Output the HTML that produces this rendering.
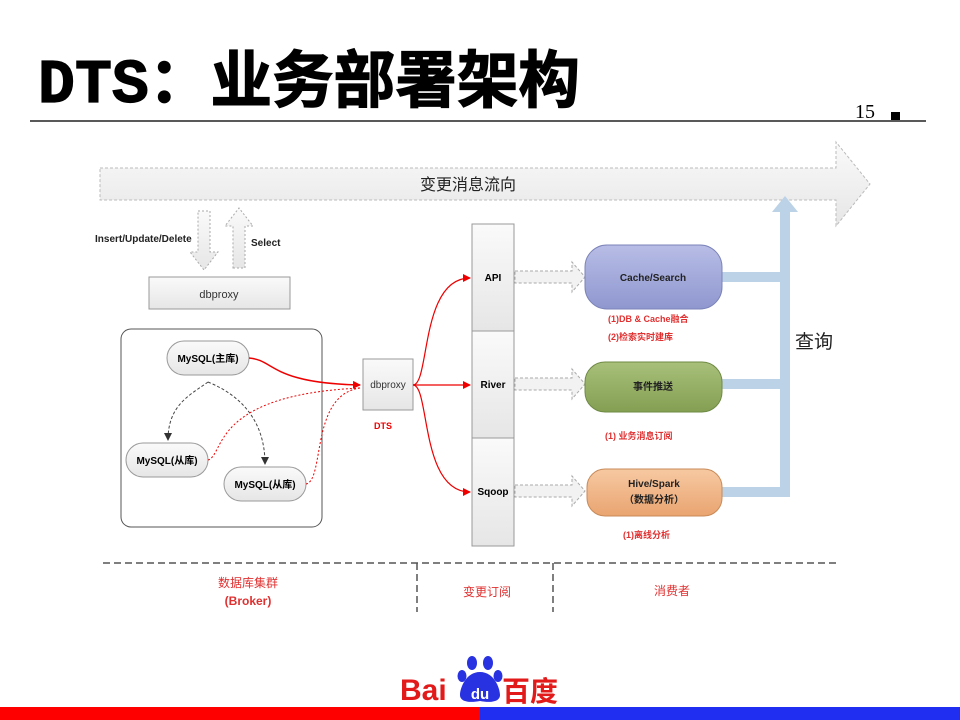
<!DOCTYPE html>
<html><head><meta charset="utf-8"><style>
html,body{margin:0;padding:0;background:#fff;}
svg{display:block;font-family:"Liberation Sans","Noto Sans CJK SC",sans-serif;}
</style></head><body>
<svg width="960" height="720" viewBox="0 0 960 720" xmlns="http://www.w3.org/2000/svg">
<defs>
<linearGradient id="g1" x1="0" y1="0" x2="0" y2="1"><stop offset="0" stop-color="#fafafa"/><stop offset="1" stop-color="#e6e6e6"/></linearGradient>
<linearGradient id="gb" x1="0" y1="0" x2="0" y2="1"><stop offset="0" stop-color="#b8bde6"/><stop offset="1" stop-color="#8f97cf"/></linearGradient>
<linearGradient id="gg" x1="0" y1="0" x2="0" y2="1"><stop offset="0" stop-color="#a8c07a"/><stop offset="1" stop-color="#849f52"/></linearGradient>
<linearGradient id="go" x1="0" y1="0" x2="0" y2="1"><stop offset="0" stop-color="#f7c9a2"/><stop offset="1" stop-color="#e9a470"/></linearGradient>
<marker id="ar" markerWidth="8" markerHeight="8" refX="7" refY="4" orient="auto" markerUnits="userSpaceOnUse"><path d="M0,0 L8,4 L0,8z" fill="#e00"/></marker>
<marker id="ak" markerWidth="8" markerHeight="8" refX="7" refY="4" orient="auto" markerUnits="userSpaceOnUse"><path d="M0,0 L8,4 L0,8z" fill="#333"/></marker>
</defs>
<text x="38" y="102" font-size="62" font-weight="bold" fill="#000" stroke="#000" stroke-width="1.2" font-family="'Liberation Mono','Noto Sans CJK SC',monospace" textLength="542" lengthAdjust="spacingAndGlyphs">DTS：业务部署架构</text>
<line x1="30" y1="121" x2="926" y2="121" stroke="#222" stroke-width="1.5"/>
<text x="855" y="118" font-size="20" font-family="'Liberation Serif',serif">15</text>
<rect x="891" y="112" width="9" height="8" fill="#000"/>
<path d="M100,168 L836,168 L836,142 L870,184 L836,226 L836,200 L100,200z" fill="url(#g1)" stroke="#bbb" stroke-dasharray="3,2"/>
<text x="468" y="190" font-size="16" text-anchor="middle" fill="#222">变更消息流向</text>
<path d="M198,211 L210,211 L210,252 L218,252 L204,270 L190,252 L198,252z" fill="url(#g1)" stroke="#aaa" stroke-dasharray="2,2"/>
<path d="M233,268 L245,268 L245,226 L253,226 L239,208 L225,226 L233,226z" fill="url(#g1)" stroke="#aaa" stroke-dasharray="2,2"/>
<text x="95" y="242" font-size="10" font-weight="bold" fill="#222">Insert/Update/Delete</text>
<text x="251" y="246" font-size="10" font-weight="bold" fill="#222">Select</text>
<rect x="149" y="277" width="141" height="32" fill="url(#g1)" stroke="#999"/>
<text x="219" y="298" font-size="11" text-anchor="middle" fill="#333">dbproxy</text>
<rect x="121" y="329" width="201" height="198" rx="10" fill="#fff" stroke="#555"/>
<rect x="167" y="341" width="82" height="34" rx="17" fill="url(#g1)" stroke="#999"/>
<text x="208" y="362" font-size="10" font-weight="bold" text-anchor="middle">MySQL(主库)</text>
<rect x="126" y="443" width="82" height="34" rx="17" fill="url(#g1)" stroke="#999"/>
<text x="167" y="464" font-size="10" font-weight="bold" text-anchor="middle">MySQL(从库)</text>
<rect x="224" y="467" width="82" height="34" rx="17" fill="url(#g1)" stroke="#999"/>
<text x="265" y="488" font-size="10" font-weight="bold" text-anchor="middle">MySQL(从库)</text>
<path d="M208,382 C190,395 168,405 168,440" fill="none" stroke="#444" stroke-dasharray="3,2" marker-end="url(#ak)"/>
<path d="M208,382 C240,395 265,420 265,464" fill="none" stroke="#444" stroke-dasharray="3,2" marker-end="url(#ak)"/>
<rect x="363" y="359" width="50" height="51" fill="url(#g1)" stroke="#999"/>
<text x="388" y="388" font-size="10" text-anchor="middle" fill="#333">dbproxy</text>
<text x="383" y="429" font-size="9" font-weight="bold" fill="#e00" text-anchor="middle">DTS</text>
<path d="M249,358 C275,360 270,383 360,385" fill="none" stroke="#e00" stroke-width="1.5" marker-end="url(#ar)"/>
<path d="M208,460 C225,455 210,395 360,388" fill="none" stroke="#e00" stroke-dasharray="2,2"/>
<path d="M306,484 C325,480 310,395 360,388" fill="none" stroke="#e00" stroke-dasharray="2,2"/>
<path d="M413,385 C430,385 420,278 470,278" fill="none" stroke="#e00" stroke-width="1.2" marker-end="url(#ar)"/>
<path d="M413,385 L470,385" fill="none" stroke="#e00" stroke-width="1.2" marker-end="url(#ar)"/>
<path d="M413,385 C430,385 420,492 470,492" fill="none" stroke="#e00" stroke-width="1.2" marker-end="url(#ar)"/>
<rect x="472" y="224" width="42" height="107" fill="url(#g1)" stroke="#999"/>
<rect x="472" y="331" width="42" height="107" fill="url(#g1)" stroke="#999"/>
<rect x="472" y="438" width="42" height="108" fill="url(#g1)" stroke="#999"/>
<text x="493" y="281" font-size="10" font-weight="bold" text-anchor="middle">API</text>
<text x="493" y="388" font-size="10" font-weight="bold" text-anchor="middle">River</text>
<text x="493" y="495" font-size="10" font-weight="bold" text-anchor="middle">Sqoop</text>
<path d="M515,271 L572,271 L572,262 L585,277 L572,292 L572,283 L515,283z" fill="#f2f2f2" stroke="#aaa" stroke-dasharray="3,2"/>
<path d="M515,378 L572,378 L572,369 L585,384 L572,399 L572,390 L515,390z" fill="#f2f2f2" stroke="#aaa" stroke-dasharray="3,2"/>
<path d="M515,485 L572,485 L572,476 L585,491 L572,506 L572,497 L515,497z" fill="#f2f2f2" stroke="#aaa" stroke-dasharray="3,2"/>
<path d="M722,277 L785,277 M722,384 L785,384 M722,492 L785,492 L785,205" fill="none" stroke="#bcd2e6" stroke-width="10"/>
<path d="M772,212 L785,196 L798,212z" fill="#bcd2e6"/>
<text x="795" y="348" font-size="19" fill="#222">查询</text>
<rect x="585" y="245" width="137" height="64" rx="22" fill="url(#gb)" stroke="#7b83b8"/>
<text x="653" y="281" font-size="10" font-weight="bold" text-anchor="middle" fill="#222">Cache/Search</text>
<rect x="585" y="362" width="137" height="50" rx="20" fill="url(#gg)" stroke="#6f8a45"/>
<text x="653" y="390" font-size="10" font-weight="bold" text-anchor="middle" fill="#222">事件推送</text>
<rect x="587" y="469" width="135" height="47" rx="18" fill="url(#go)" stroke="#c88a58"/>
<text x="654" y="487" font-size="10" font-weight="bold" text-anchor="middle" fill="#222">Hive/Spark</text>
<text x="654" y="503" font-size="10" font-weight="bold" text-anchor="middle" fill="#222">（数据分析）</text>
<g font-size="9" font-weight="bold" fill="#e03030">
<text x="608" y="322">(1)DB &amp; Cache融合</text>
<text x="608" y="340">(2)检索实时建库</text>
<text x="605" y="439">(1) 业务消息订阅</text>
<text x="623" y="538">(1)离线分析</text>
</g>
<line x1="103" y1="563" x2="840" y2="563" stroke="#555" stroke-width="1.5" stroke-dasharray="7,4"/>
<line x1="417" y1="563" x2="417" y2="612" stroke="#555" stroke-width="1.5" stroke-dasharray="7,4"/>
<line x1="553" y1="563" x2="553" y2="612" stroke="#555" stroke-width="1.5" stroke-dasharray="7,4"/>
<g font-size="12" fill="#e03030" text-anchor="middle">
<text x="248" y="587">数据库集群</text>
<text x="248" y="605" font-weight="bold">(Broker)</text>
<text x="487" y="596">变更订阅</text>
<text x="672" y="595">消费者</text>
</g>
<text x="400" y="700" font-size="30" font-weight="bold" fill="#e21a1a">Bai</text>
<g fill="#2932e1">
<ellipse cx="472" cy="663" rx="5" ry="7"/><ellipse cx="488" cy="663" rx="5" ry="7"/>
<ellipse cx="462" cy="676" rx="4.5" ry="6"/><ellipse cx="498" cy="676" rx="4.5" ry="6"/>
<path d="M480,672 C466,672 460,688 460,695 C460,702 470,703 480,701 C490,703 500,702 500,695 C500,688 494,672 480,672z"/>
</g>
<text x="480" y="699" font-size="15" font-weight="bold" fill="#fff" text-anchor="middle">du</text>
<text x="502" y="701" font-size="28" font-weight="bold" fill="#e21a1a">百度</text>
<rect x="0" y="707" width="480" height="13" fill="#f00"/>
<rect x="480" y="707" width="480" height="13" fill="#1f2ef0"/>
</svg>
</body></html>
